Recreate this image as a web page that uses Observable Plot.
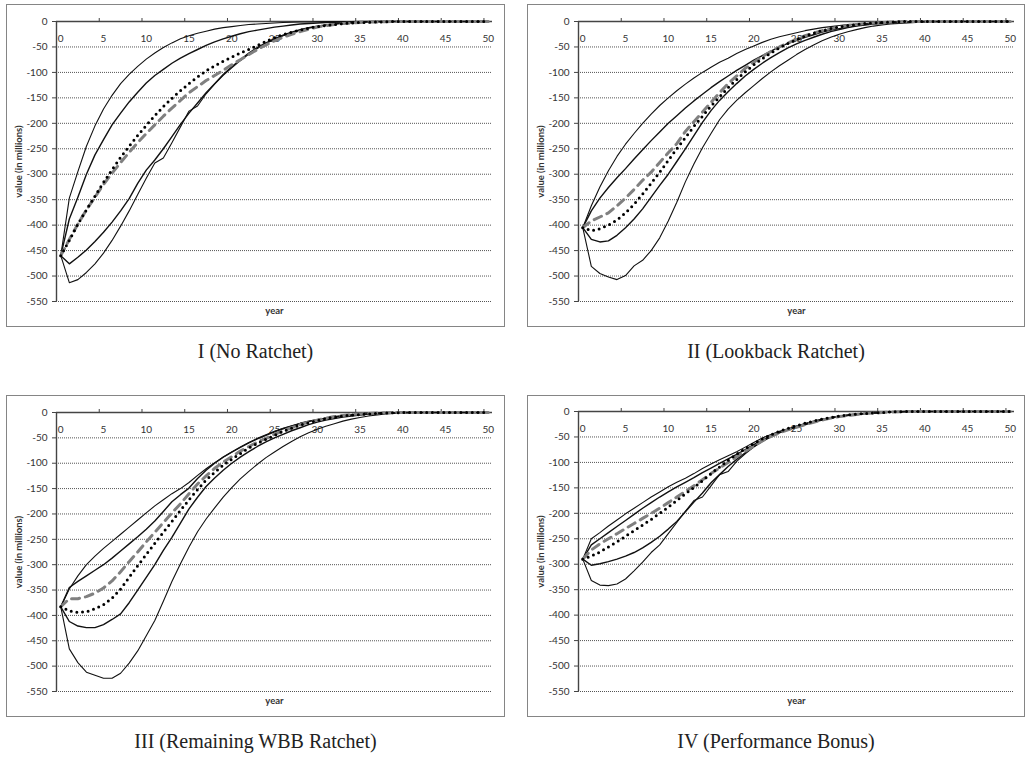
<!DOCTYPE html>
<html><head><meta charset="utf-8">
<script src="https://cdn.jsdelivr.net/npm/d3@7"></script>
<script src="https://cdn.jsdelivr.net/npm/@observablehq/plot@0.6"></script>
<style>
body{margin:0;background:#fff;}
#root{position:relative;width:1029px;height:759px;overflow:hidden;}
.box{position:absolute;border:1.5px solid #858585;box-sizing:border-box;}
.fig{position:absolute;}
.fig svg{overflow:visible;}
.cap{position:absolute;font-family:"Liberation Serif","Times New Roman",serif;font-size:20px;color:#222;text-align:center;height:26px;line-height:26px;white-space:nowrap;}
</style></head>
<body><div id="root"></div>
<script>
const years = [0,1,2,3,4,5,6,7,8,9,10,11,12,13,14,15,16,17,18,19,20,21,22,23,24,25,26,27,28,29,30,31,32,33,34,35,36,37,38,39,40,41,42,43,44,45,46,47,48,49,50];
const xTickLabels = [0,5,10,15,20,25,30,35,40,45,50];
const xTickMarks = [4.5,9.5,14.5,19.5,24.5,29.5,34.5,39.5,44.5,49.5];
const yTicks = [0,-50,-100,-150,-200,-250,-300,-350,-400,-450,-500,-550];
const yGrid = [-50,-100,-150,-200,-250,-300,-350,-400,-450,-500,-550];
const panelTitles = ["I (No Ratchet)","II (Lookback Ratchet)","III (Remaining WBB Ratchet)","IV (Performance Bonus)"];
const xLabel = "year";
const yLabel = "value (in millions)";

// Panel I (No Ratchet)
const I_outerUp = [-460,-347,-295,-245,-205,-172,-145,-122,-104,-88, -74,-62,-51,-42,-34,-28,-23,-19,-15,-12, -10,-8,-6,-5,-4,-3,-2,-1.5,-1,-1, -0.5,0,0,0,0,0,0,0,0,0, 0,0,0,0,0,0,0,0,0,0, 0];
const I_innerUp = [-460,-388,-345,-300,-262,-232,-203,-180,-158,-139, -121,-106,-94,-82,-72,-63,-55,-47,-40,-34, -29,-24,-20,-17,-14,-11,-9,-7,-5,-4, -3,-2,-1.5,-1,-0.5,0,0,0,0,0, 0,0,0,0,0,0,0,0,0,0, 0];
const I_median = [-460,-428,-398,-370,-345,-320,-298,-277,-257,-238, -220,-203,-186,-170,-155,-140,-128,-116,-106,-96, -85,-75,-65,-55,-46,-38,-31,-25,-20,-15, -11,-8,-6,-4,-3,-2,-1,-1,-0.5,0, 0,0,0,0,0,0,0,0,0,0, 0];
const I_mean = [-460,-430,-398,-370,-343,-316,-291,-267,-245,-224, -204,-185,-167,-151,-136,-122,-109,-97,-87,-78, -70,-62,-55,-47,-39,-32,-26,-21,-17,-13, -10,-8,-6,-4,-3,-2,-1.5,-1,-0.5,0, 0,0,0,0,0,0,0,0,0,0, 0];
const I_innerLow = [-460,-476,-463,-449,-432,-414,-394,-372,-348,-318, -292,-272,-250,-226,-202,-180,-160,-140,-122,-104, -89,-75,-62,-51,-42,-34,-27,-21,-16,-12, -9,-7,-5,-3,-2,-1,-0.5,0,0,0, 0,0,0,0,0,0,0,0,0,0, 0];
const I_outerLow = [-460,-513,-507,-493,-476,-455,-430,-402,-372,-340, -308,-278,-268,-238,-207,-176,-166,-142,-123,-106, -91,-77,-64,-53,-43,-35,-28,-22,-17,-13, -10,-7,-5,-4,-3,-2,-1,-0.5,0,0, 0,0,0,0,0,0,0,0,0,0, 0];

// Panel II (Lookback Ratchet)
const II_outerUp = [-405,-362,-325,-293,-265,-241,-220,-200,-182,-165, -150,-136,-123,-111,-100,-90,-80,-72,-63,-55, -48,-41,-35,-30,-26,-22,-18,-15,-12,-10, -8,-6,-5,-4,-3,-2,-1.5,-1,-0.5,0, 0,0,0,0,0,0,0,0,0,0, 0];
const II_innerUp = [-405,-372,-347,-326,-307,-289,-270,-252,-234,-217, -200,-185,-170,-156,-143,-130,-118,-107,-96,-86, -76,-67,-58,-50,-43,-37,-31,-26,-21,-17, -14,-11,-8,-6,-4,-3,-2,-1,-0.5,0, 0,0,0,0,0,0,0,0,0,0, 0];
const II_median = [-405,-392,-384,-376,-362,-347,-330,-312,-296,-277, -258,-240,-216,-197,-178,-159,-140,-122,-107,-92, -80,-69,-59,-50,-42,-35,-28,-23,-18,-14, -11,-8,-6,-4,-3,-2,-1,-0.5,0,0, 0,0,0,0,0,0,0,0,0,0, 0];
const II_mean = [-405,-411,-407,-400,-390,-376,-359,-339,-318,-296, -273,-250,-228,-206,-186,-166,-148,-130,-114,-99, -85,-73,-62,-52,-43,-36,-29,-23,-18,-14, -11,-8,-6,-4,-3,-2,-1,-0.5,0,0, 0,0,0,0,0,0,0,0,0,0, 0];
const II_innerLow = [-405,-428,-433,-431,-420,-405,-388,-368,-345,-322, -300,-275,-250,-224,-198,-175,-155,-138,-122,-107, -94,-82,-71,-61,-52,-44,-37,-31,-25,-20, -16,-12,-9,-7,-5,-4,-3,-2,-1,-0.5, 0,0,0,0,0,0,0,0,0,0, 0];
const II_outerLow = [-405,-481,-495,-502,-507,-499,-480,-469,-450,-425, -392,-355,-315,-280,-248,-220,-193,-172,-155,-140, -126,-112,-99,-87,-76,-65,-55,-46,-38,-31, -25,-20,-16,-12,-9,-7,-5,-4,-3,-2, -1,-0.5,0,0,0,0,0,0,0,0, 0];

// Panel III (Remaining WBB Ratchet)
const III_outerUp = [-383,-348,-322,-300,-283,-268,-254,-240,-226,-212, -198,-184,-172,-160,-150,-138,-124,-111,-99,-88, -78,-68,-59,-51,-44,-37,-31,-26,-21,-17, -14,-11,-8,-6,-5,-4,-3,-2,-1,-0.5, 0,0,0,0,0,0,0,0,0,0, 0];
const III_innerUp = [-383,-345,-333,-322,-311,-300,-287,-273,-259,-245, -230,-214,-195,-176,-162,-149,-130,-114,-100,-88, -78,-69,-60,-52,-45,-38,-32,-27,-22,-18, -14,-11,-9,-7,-5,-4,-3,-2,-1,-0.5, 0,0,0,0,0,0,0,0,0,0, 0];
const III_median = [-383,-367,-367,-363,-356,-346,-332,-314,-294,-275, -255,-236,-217,-198,-180,-160,-141,-125,-110,-98, -87,-76,-67,-58,-51,-43,-36,-30,-24,-19, -15,-11,-8,-6,-4,-3,-2,-1,-0.5,0, 0,0,0,0,0,0,0,0,0,0, 0];
const III_mean = [-383,-391,-394,-393,-387,-379,-366,-348,-325,-302, -280,-258,-236,-215,-193,-172,-152,-133,-118,-104, -92,-81,-70,-61,-53,-45,-37,-31,-25,-20, -16,-12,-9,-7,-5,-4,-3,-2,-1,-0.5, 0,0,0,0,0,0,0,0,0,0, 0];
const III_innerLow = [-383,-412,-421,-424,-424,-418,-408,-397,-375,-350, -325,-300,-272,-246,-218,-190,-167,-146,-129,-114, -100,-88,-77,-67,-58,-50,-43,-36,-30,-24, -19,-15,-12,-9,-7,-5,-3,-2,-1,-0.5, 0,0,0,0,0,0,0,0,0,0, 0];
const III_outerLow = [-383,-466,-493,-512,-518,-524,-524,-514,-494,-470, -440,-410,-372,-333,-298,-265,-235,-210,-188,-167, -148,-131,-116,-102,-89,-78,-67,-57,-48,-40, -33,-27,-22,-17,-13,-10,-7,-5,-3,-2, -1,-0.5,0,0,0,0,0,0,0,0, 0];

// Panel IV (Performance Bonus)
const IV_outerUp = [-290,-250,-238,-225,-213,-201,-190,-179,-168,-158, -148,-139,-131,-122,-112,-103,-95,-87,-79,-70, -61,-52,-45,-39,-34,-29,-24,-20,-16,-13, -10,-8,-6,-4,-3,-2,-1,-0.5,0,0, 0,0,0,0,0,0,0,0,0,0, 0];
const IV_innerUp = [-290,-262,-250,-238,-226,-214,-202,-190,-179,-168, -158,-148,-139,-130,-120,-111,-102,-93,-84,-75, -65,-56,-48,-41,-36,-31,-26,-21,-17,-13, -10,-8,-6,-4,-3,-2,-1,-0.5,0,0, 0,0,0,0,0,0,0,0,0,0, 0];
const IV_median = [-290,-272,-260,-250,-240,-230,-220,-210,-200,-190, -179,-168,-157,-146,-134,-122,-111,-100,-89,-78, -68,-58,-49,-42,-36,-31,-26,-21,-17,-13, -10,-8,-6,-4,-3,-2,-1,-0.5,0,0, 0,0,0,0,0,0,0,0,0,0, 0];
const IV_mean = [-290,-284,-276,-266,-256,-245,-234,-223,-212,-200, -188,-175,-162,-149,-136,-122,-109,-96,-84,-73, -63,-54,-46,-39,-33,-28,-23,-19,-15,-12, -9,-7,-5,-4,-3,-2,-1,-0.5,0,0, 0,0,0,0,0,0,0,0,0,0, 0];
const IV_innerLow = [-290,-302,-299,-295,-290,-284,-277,-268,-257,-245, -231,-216,-197,-178,-160,-140,-124,-108,-94,-81, -69,-58,-49,-41,-35,-29,-24,-19,-15,-12, -9,-7,-5,-4,-3,-2,-1,-0.5,0,0, 0,0,0,0,0,0,0,0,0,0, 0];
const IV_outerLow = [-290,-332,-341,-342,-339,-329,-313,-296,-277,-262, -240,-218,-196,-175,-168,-146,-124,-118,-98,-83, -70,-59,-50,-42,-36,-30,-25,-20,-16,-12, -10,-7,-5,-4,-3,-2,-1,-0.5,0,0, 0,0,0,0,0,0,0,0,0,0, 0];

const panels = [
  {title: panelTitles[0], series: {outerUp: I_outerUp, innerUp: I_innerUp, median: I_median, mean: I_mean, innerLow: I_innerLow, outerLow: I_outerLow},
   left: 6, top: 4, w: 499, h: 323, ml: 50, mr: 13, mt: 17, mb: 26},
  {title: panelTitles[1], series: {outerUp: II_outerUp, innerUp: II_innerUp, median: II_median, mean: II_mean, innerLow: II_innerLow, outerLow: II_outerLow},
   left: 527, top: 4, w: 498, h: 323, ml: 51, mr: 11, mt: 17, mb: 26},
  {title: panelTitles[2], series: {outerUp: III_outerUp, innerUp: III_innerUp, median: III_median, mean: III_mean, innerLow: III_innerLow, outerLow: III_outerLow},
   left: 6, top: 395, w: 499, h: 322, ml: 50, mr: 13, mt: 17, mb: 26},
  {title: panelTitles[3], series: {outerUp: IV_outerUp, innerUp: IV_innerUp, median: IV_median, mean: IV_mean, innerLow: IV_innerLow, outerLow: IV_outerLow},
   left: 527, top: 395, w: 498, h: 322, ml: 51, mr: 11, mt: 16, mb: 26}
];

const styleOuter = {stroke: "#111", strokeWidth: 1.1};
const styleInner = {stroke: "#111", strokeWidth: 1.4};
const styleMedian = {stroke: "#808080", strokeWidth: 3, strokeDasharray: "8,6"};
const styleMean = {stroke: "#000", strokeWidth: 3, strokeDasharray: "0,5.7", strokeLinecap: "round"};

const root = document.getElementById("root");
const rows = arr => years.map((x, i) => ({x, y: arr[i]}));

for (const p of panels) {
  const s = p.series;
  const chart = Plot.plot({
    width: p.w, height: p.h,
    marginLeft: p.ml, marginRight: p.mr, marginTop: p.mt, marginBottom: p.mb,
    x: {domain: [-0.5, 50.5], axis: null},
    y: {domain: [-550, 0], axis: null},
    style: {fontFamily: "Lato, 'Open Sans', sans-serif", fontSize: "10px", color: "#333", background: "transparent", overflow: "visible"},
    marks: [
      Plot.gridY(yGrid, {stroke: "#555", strokeOpacity: 1, strokeWidth: 1, strokeDasharray: "1,1"}),
      Plot.axisY({ticks: yTicks, tickSize: 4, tickPadding: 5, label: null, tickFormat: d => String(d), stroke: "#444", fontSize: 10, fill: "#333"}),
      Plot.axisX({anchor: "top", ticks: xTickMarks, tickSize: 4, tickFormat: () => "", label: null, stroke: "#444"}),
      Plot.ruleX([-0.5], {stroke: "#444", strokeWidth: 1.4}),
      Plot.ruleY([0], {stroke: "#444", strokeWidth: 1.4}),
      Plot.text(xTickLabels, {x: d => d, frameAnchor: "top", dy: 17.5, text: d => String(d), textAnchor: "middle", lineAnchor: "middle", fontSize: 10, fill: "#333"}),
      Plot.text([xLabel], {frameAnchor: "bottom", dy: 9, textAnchor: "middle", lineAnchor: "middle", fontWeight: "bold", fontSize: 9.5, fill: "#333"}),
      Plot.text([yLabel], {frameAnchor: "left", dx: -37.5, rotate: -90, textAnchor: "middle", lineAnchor: "middle", fontWeight: "bold", fontSize: 9.5, fill: "#333"}),
      Plot.line(rows(s.outerUp), {x: "x", y: "y", ...styleOuter}),
      Plot.line(rows(s.outerLow), {x: "x", y: "y", ...styleOuter}),
      Plot.line(rows(s.innerUp), {x: "x", y: "y", ...styleInner}),
      Plot.line(rows(s.innerLow), {x: "x", y: "y", ...styleInner}),
      Plot.line(rows(s.median), {x: "x", y: "y", ...styleMedian}),
      Plot.line(rows(s.mean), {x: "x", y: "y", ...styleMean})
    ]
  });
  const fig = document.createElement("div");
  fig.className = "fig";
  fig.style.left = p.left + "px";
  fig.style.top = p.top + "px";
  fig.appendChild(chart);
  root.appendChild(fig);

  const box = document.createElement("div");
  box.className = "box";
  box.style.left = p.left + "px";
  box.style.top = p.top + "px";
  box.style.width = p.w + "px";
  box.style.height = p.h + "px";
  root.appendChild(box);

  const cap = document.createElement("div");
  cap.className = "cap";
  cap.textContent = p.title;
  cap.style.left = p.left + "px";
  cap.style.width = p.w + "px";
  cap.style.top = (p.top + p.h + 11) + "px";
  root.appendChild(cap);
}
</script>
</body></html>
